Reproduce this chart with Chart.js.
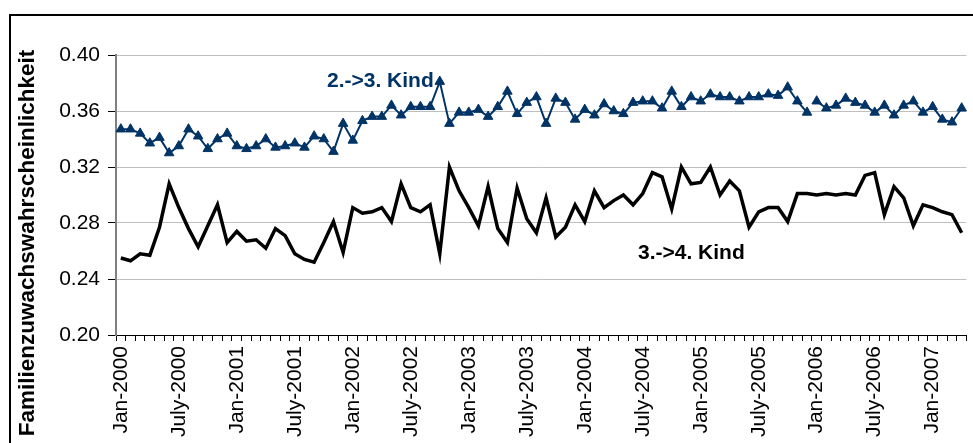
<!DOCTYPE html>
<html><head><meta charset="utf-8">
<script src="https://cdn.jsdelivr.net/npm/chart.js@4"></script>
<style>
html,body{margin:0;padding:0;background:#fff;overflow:hidden;width:973px;height:443px}
#frame{position:absolute;left:9px;top:14px;width:1000px;height:1000px;border-left:2px solid #000;border-top:2px solid #000;}
#wrap{position:absolute;left:0;top:0;width:973px;height:470px}
canvas{position:absolute;left:0;top:0}
</style></head>
<body>
<div id="frame"></div>
<div id="wrap"><canvas id="c" width="973" height="470"></canvas></div>
<script>
const monthNames = ['Jan','Feb','Mar','Apr','May','June','July','Aug','Sep','Oct','Nov','Dec'];
const years = [2000,2001,2002,2003,2004,2005,2006,2007];
const categories = [];
years.forEach(y => monthNames.forEach(m => categories.push(m + '-' + y)));
categories.length = 88; // Jan-2000 .. Apr-2007

const kind23 = [
 0.347,0.347,0.344,0.337,0.341,0.330,0.335,0.347,0.342,0.333,
 0.340,0.344,0.335,0.333,0.335,0.340,0.334,0.335,0.337,0.334,
 0.342,0.340,0.331,0.351,0.339,0.353,0.356,0.356,0.364,0.357,
 0.363,0.363,0.363,0.381,0.351,0.359,0.359,0.361,0.356,0.363,
 0.374,0.358,0.366,0.370,0.351,0.369,0.366,0.354,0.361,0.357,
 0.365,0.360,0.358,0.366,0.367,0.367,0.362,0.374,0.363,0.370,
 0.367,0.372,0.370,0.370,0.367,0.370,0.370,0.372,0.371,0.377,
 0.367,0.359,0.367,0.362,0.364,0.369,0.366,0.364,0.359,0.364,
 0.357,0.364,0.367,0.359,0.363,0.354,0.352,0.362
];
const kind34 = [
 0.255,0.253,0.258,0.257,0.277,0.308,0.291,0.276,0.263,0.278,
 0.293,0.266,0.274,0.267,0.268,0.262,0.276,0.271,0.258,0.254,
 0.252,0.266,0.281,0.259,0.291,0.287,0.288,0.291,0.281,0.308,
 0.291,0.288,0.293,0.258,0.320,0.303,0.291,0.278,0.306,0.276,
 0.266,0.305,0.283,0.273,0.298,0.270,0.277,0.293,0.281,0.303,
 0.291,0.296,0.300,0.293,0.301,0.316,0.313,0.290,0.320,0.308,
 0.309,0.320,0.300,0.310,0.303,0.277,0.288,0.291,0.291,0.281,
 0.301,0.301,0.300,0.301,0.300,0.301,0.300,0.314,0.316,0.286,
 0.306,0.298,0.278,0.293,0.291,0.288,0.286,0.273
];
const yTicks = [0.20,0.24,0.28,0.32,0.36,0.40];
const yTitle = 'Familienzuwachswahrscheinlichkeit';
const label23 = '2.->3. Kind';
const label34 = '3.->4. Kind';

const FONT = '"Liberation Sans", Arial, sans-serif';

const textPlugin = {
  id: 'texts',
  afterDraw(chart) {
    const ctx = chart.ctx;
    ctx.save();
    ctx.font = 'bold 22.5px ' + FONT;
    ctx.fillStyle = '#000';
    ctx.translate(28, 243);
    ctx.rotate(-Math.PI / 2);
    ctx.textAlign = 'center';
    ctx.textBaseline = 'middle';
    ctx.fillText(yTitle, 0, 0);
    ctx.restore();

    ctx.save();
    ctx.font = 'bold 21px ' + FONT;
    ctx.textAlign = 'left';
    ctx.textBaseline = 'middle';
    ctx.fillStyle = '#003366';
    ctx.fillText(label23, 327, 81);
    ctx.fillStyle = '#000';
    ctx.fillText(label34, 638, 253);
    ctx.restore();
  }
};

new Chart(document.getElementById('c'), {
  type: 'line',
  data: {
    labels: categories,
    datasets: [
      {
        data: kind34,
        borderColor: '#000',
        borderWidth: 3.5,
        pointRadius: 0,
        tension: 0,
        fill: false
      },
      {
        data: kind23,
        borderColor: '#003366',
        borderWidth: 2,
        pointStyle: 'triangle',
        pointRadius: 5.5,
        pointBackgroundColor: '#003366',
        pointBorderColor: '#003366',
        pointBorderWidth: 1,
        tension: 0,
        fill: false,
        segment: { borderColor: c => c.p0DataIndex === 71 ? 'rgba(0,0,0,0)' : undefined }
      }
    ]
  },
  options: {
    responsive: false,
    animation: false,
    layout: { padding: { top: 55, right: 6, left: 0, bottom: 0 } },
    plugins: { legend: { display: false }, tooltip: { enabled: false } },
    scales: {
      x: {
        type: 'category',
        offset: true,
        afterFit: s => { s.height = 135; s.paddingLeft = 0; s.paddingRight = 0; },
        grid: { display: true, drawOnChartArea: false, drawTicks: true, tickLength: 6, tickColor: '#000', offset: true },
        border: { display: true, color: '#000', width: 1 },
        ticks: {
          autoSkip: false, minRotation: 90, maxRotation: 90, padding: 5,
          color: '#000', font: { family: FONT, size: 21 },
          callback: function(v, i) { return i % 6 === 0 ? this.getLabelForValue(v) : ''; }
        }
      },
      y: {
        min: 0.20, max: 0.40,
        afterFit: s => { s.width = 116; },
        afterBuildTicks: s => { s.ticks = yTicks.map(v => ({ value: v })); },
        grid: { color: '#bfbfbf', lineWidth: 1, drawTicks: true, tickLength: 8, tickColor: '#000' },
        border: { display: true, color: '#808080', width: 2 },
        ticks: {
          padding: 8, color: '#000', font: { family: FONT, size: 21 },
          callback: v => Number(v).toFixed(2)
        }
      }
    }
  },
  plugins: [textPlugin]
});
</script>
</body></html>
